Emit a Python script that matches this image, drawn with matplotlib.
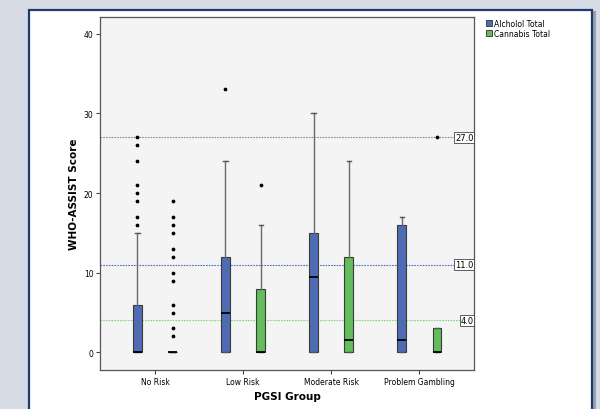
import matplotlib
matplotlib.use("Agg")
import matplotlib.pyplot as plt
from matplotlib.patches import Rectangle

groups = ["No Risk", "Low Risk", "Moderate Risk", "Problem Gambling"]
series = ["Alcholol Total", "Cannabis Total"]
# per group: [whislo, q1, med, q3, whishi]
alcohol_stats = [[0, 0, 0, 6, 15], [0, 0, 5, 12, 24], [0, 0, 9.5, 15, 30], [0, 0, 1.5, 16, 17]]
cannabis_stats = [[0, 0, 0, 0, 0], [0, 0, 0, 8, 16], [0, 0, 1.5, 12, 24], [0, 0, 0, 3, 3]]
alcohol_out = [[16, 17, 19, 20, 21, 24, 26, 27], [33], [], []]
cannabis_out = [[2, 3, 5, 6, 9, 10, 12, 13, 15, 16, 17, 19], [21], [], [27]]
ref_values = [27.0, 11.0, 4.0]
ref_colors = ["#8a8a8a", "#5068d0", "#8ad480"]
yticks = [0, 10, 20, 30, 40]

colors = ["#4f6bb3", "#63bd5a"]

fig = plt.figure(figsize=(6, 4.1), dpi=100)
fig.patch.set_facecolor("#d7dbe6")
fig.patches.append(Rectangle((592.5/600, -0.05), 3/600, 1.05-12/410,
                             transform=fig.transFigure, facecolor="#9aa0ac",
                             edgecolor="none", zorder=-11))
fig.patches.append(Rectangle((28.5/600, -0.05), (591.5-28.5)/600, 1.05-10.5/410,
                             transform=fig.transFigure, facecolor="white",
                             edgecolor="#1f3b6e", linewidth=1.6, zorder=-10))

ax = fig.add_axes([100.3/600, (410-370.7)/410, (474-100.3)/600, (370.7-18)/410])
ax.set_facecolor("#f3f4f3")

def make_stats(s, out):
    return dict(whislo=s[0], q1=s[1], med=s[2], q3=s[3], whishi=s[4], fliers=out)

offs = [-0.2, 0.2]
for si, (stats, outs) in enumerate([(alcohol_stats, alcohol_out), (cannabis_stats, cannabis_out)]):
    bstats = [make_stats(s, o) for s, o in zip(stats, outs)]
    pos = [i + offs[si] for i in range(len(groups))]
    ax.bxp(bstats, positions=pos, widths=0.1, patch_artist=True, showcaps=True,
           boxprops=dict(facecolor=colors[si], edgecolor="#3a3a3a", linewidth=0.8),
           medianprops=dict(color="black", linewidth=1.3),
           whiskerprops=dict(color="#6a6a6a", linewidth=1.0),
           capprops=dict(color="#555555", linewidth=1.0),
           capwidths=0.05,
           flierprops=dict(marker="o", markersize=1.7, markerfacecolor="black",
                           markeredgecolor="black", linestyle="none"))

for v, c in zip(ref_values, ref_colors):
    ax.axhline(v, color=c, linestyle=(0, (1.5, 1)), linewidth=0.8, zorder=0.5)
    ax.text(0.999, v, f"{v:.1f}", transform=ax.get_yaxis_transform(), ha="right",
            va="center", fontsize=6,
            bbox=dict(boxstyle="square,pad=0.1", facecolor="white", edgecolor="#444444", linewidth=0.6))

ax.set_xlim(-0.62, 3.62)
ax.set_ylim(-2.18, 42.1)
ax.set_yticks(yticks)
ax.set_xticks(range(len(groups)))
ax.set_xticklabels(groups)
ax.tick_params(axis="both", labelsize=5.5, length=3, width=0.8, color="#444444", pad=2)
for sp in ax.spines.values():
    sp.set_color("#555555")
    sp.set_linewidth(0.9)
ax.set_ylabel("WHO-ASSIST Score", fontsize=7.5, fontweight="bold", labelpad=3)
ax.set_xlabel("PGSI Group", fontsize=7.5, fontweight="bold", labelpad=4)

# legend
handles = [Rectangle((0, 0), 1, 1, facecolor=c, edgecolor="#333333", linewidth=0.6) for c in colors]
fig.legend(handles, series, loc="upper left", bbox_to_anchor=(483/600, (410-17)/410),
           fontsize=5.5, frameon=False, handlelength=0.8, handleheight=0.8,
           handletextpad=0.2, labelspacing=0.1, borderaxespad=0)

fig.savefig("out.png", dpi=100, facecolor=fig.get_facecolor())
